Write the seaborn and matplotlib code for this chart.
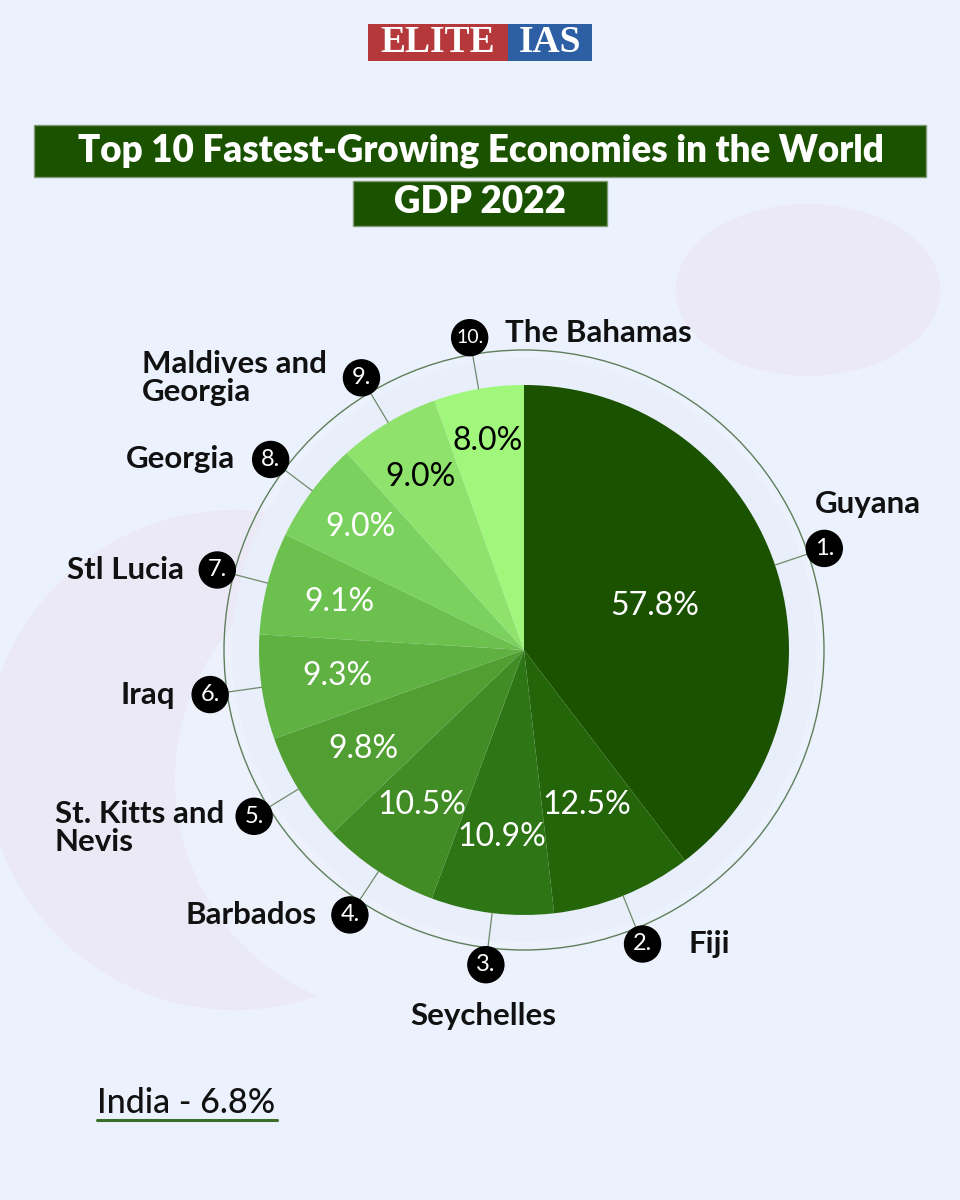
import matplotlib
matplotlib.use("Agg")
import matplotlib.pyplot as plt
import seaborn as sns
import numpy as np
from matplotlib.patches import Circle, Ellipse, Rectangle

# ---------------- data ----------------
countries = ["Guyana", "Fiji", "Seychelles", "Barbados", "St. Kitts and\nNevis",
             "Iraq", "Stl Lucia", "Georgia", "Maldives and\nGeorgia", "The Bahamas"]
growth = [57.8, 12.5, 10.9, 10.5, 9.8, 9.3, 9.1, 9.0, 9.0, 8.0]
ranks = ["1.", "2.", "3.", "4.", "5.", "6.", "7.", "8.", "9.", "10."]
title_line1 = "Top 10 Fastest-Growing Economies in the World"
title_line2 = "GDP 2022"
india_note = "India - 6.8%"
logo_left, logo_right = "ELITE", "IAS"

# ---------------- style ----------------
sns.set_theme(style="white")
plt.rcParams["font.family"] = ["Lato", "DejaVu Sans"]

BG = "#ecf2fd"
DARK = "#1a5200"
slice_colors = ["#1a5200", "#246509", "#2e7516", "#428c26", "#519e33",
                "#5fb141", "#6cc14e", "#7bd15d", "#8fe36d", "#a0f77b"]
pct_colors = ["white"] * 8 + ["black", "black"]
pct_radius = [0.52, 0.63, 0.71, 0.70, 0.71, 0.71, 0.72, 0.77, 0.76, 0.80]
# label placement relative to badge: (dx, dy, ha, va) in pixels (dy down)
label_place = [(44, -44, "center", "center"), (46, 0, "left", "center"),
               (-3, 51, "center", "center"), (-33, 0, "right", "center"),
               (-30, -16, "right", "top"), (-35, 0, "right", "center"),
               (-33, 0, "right", "center"), (-36, 0, "right", "center"),
               (-35, -28, "right", "top"), (35, -5, "left", "center")]

W, H = 960, 1200
def Y(y):
    return H - y

fig = plt.figure(figsize=(9.6, 12), dpi=100, facecolor=BG)
ax = fig.add_axes([0, 0, 1, 1])
ax.set_facecolor(BG)

# background decoration
ax.add_patch(Ellipse((808, Y(290)), 265, 172, color="#ece9f7", zorder=0, lw=0))
ax.add_patch(Circle((235, Y(760)), 250, color="#ebe9f6", zorder=0, lw=0))
ax.add_patch(Circle((410, Y(780)), 235, color="#ecf1fc", zorder=0.1, lw=0))
ax.add_patch(Circle((524, Y(650)), 292, color="#e8eefa", zorder=0.2, lw=0))

CX, CY, R = 524, Y(650), 265
wedges, _ = ax.pie(growth, colors=slice_colors, startangle=90, counterclock=False,
                   center=(CX, CY), radius=R, wedgeprops=dict(linewidth=0, zorder=2),
                   frame=True)
ax.set_xlim(0, W)
ax.set_ylim(0, H)
ax.set_aspect("equal")
ax.axis("off")

# outer ring
ax.add_patch(Circle((CX, CY), 300, fill=False, ec="#5f7f5a", lw=1.0, zorder=3))

for i, w in enumerate(wedges):
    mid = np.deg2rad((w.theta1 + w.theta2) / 2)
    c, s = np.cos(mid), np.sin(mid)
    rr = pct_radius[i] * R
    ax.text(CX + rr * c, CY + rr * s, f"{growth[i]:.1f}%", color=pct_colors[i],
            ha="center", va="center", fontsize=23, zorder=4)
    ax.plot([CX + R * c, CX + 300 * c], [CY + R * s, CY + 300 * s],
            color="#6f8a6a", lw=0.9, zorder=3)
    bx, by = CX + 317 * c, CY + 317 * s
    ax.add_patch(Circle((bx, by), 18, color="black", zorder=5))
    ax.text(bx, by, ranks[i], color="white", ha="center", va="center",
            fontsize=17 if len(ranks[i]) < 3 else 14, zorder=6)
    dx, dy, ha, va = label_place[i]
    ax.text(bx + dx, by - dy, countries[i], ha=ha, va=va, multialignment="left",
            fontsize=22.5, fontweight="bold", color="#111111", zorder=6,
            linespacing=1.0)

# logo
ax.add_patch(Rectangle((368, Y(61)), 140, 37, color="#b5393b", zorder=5, lw=0))
ax.add_patch(Rectangle((508, Y(61)), 84, 37, color="#2d5fa5", zorder=5, lw=0))
ax.text(438, Y(42), logo_left, family="Liberation Serif", fontweight="bold",
        color="white", ha="center", va="center", fontsize=27, zorder=6)
ax.text(550, Y(42), logo_right, family="Liberation Serif", fontweight="bold",
        color="white", ha="center", va="center", fontsize=27, zorder=6)

# title boxes
ax.add_patch(Rectangle((34, Y(177)), 892, 52, fc=DARK, ec="#7f9a74", lw=1, zorder=5))
ax.text(481, Y(151), title_line1, color="white", ha="center", va="center",
        fontsize=26.5, fontweight="heavy", zorder=6)
ax.add_patch(Rectangle((353, Y(226)), 254, 45, fc=DARK, ec="#7f9a74", lw=1, zorder=5))
ax.text(480, Y(202), title_line2, color="white", ha="center", va="center",
        fontsize=26.5, fontweight="heavy", zorder=6)

# India note
ax.text(97, Y(1103), india_note, ha="left", va="center", fontsize=24.5,
        fontweight="medium", color="#111111", zorder=6)
ax.plot([97, 277], [Y(1120), Y(1120)], color="#3a6e2a", lw=2.2, zorder=6)

fig.savefig("out.png", dpi=100, facecolor=BG)
